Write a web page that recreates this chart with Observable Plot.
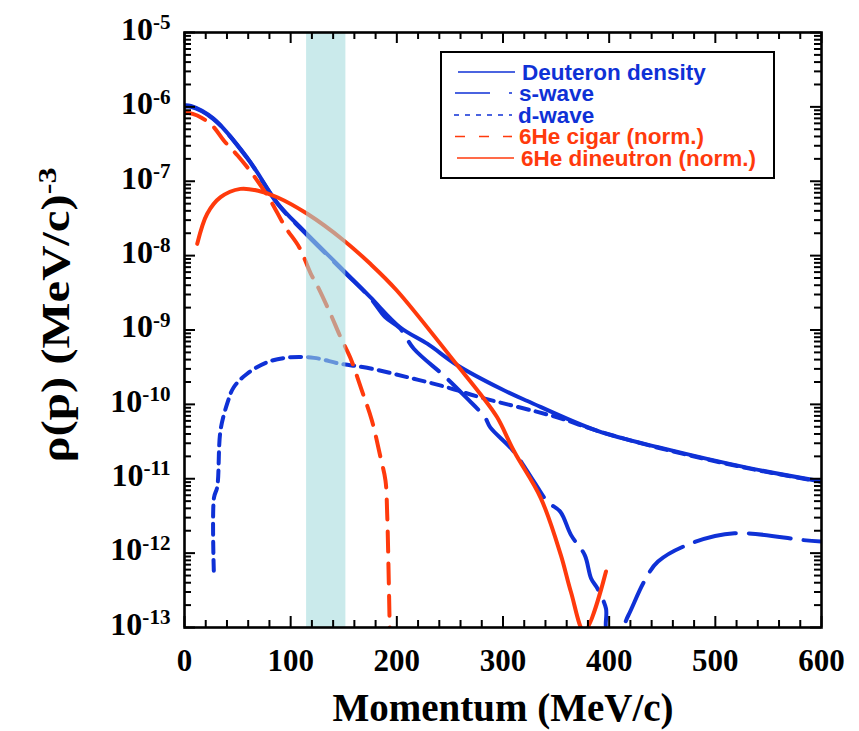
<!DOCTYPE html>
<html>
<head>
<meta charset="utf-8">
<script src="https://cdn.jsdelivr.net/npm/d3@7"></script>
<script src="https://cdn.jsdelivr.net/npm/@observablehq/plot@0.6"></script>
<style>
  html, body { margin: 0; padding: 0; background: #fff; }
  #wrap { position: relative; width: 859px; height: 731px; overflow: hidden; }
  #legend { position: absolute; left: 0; top: 0; pointer-events: none; }
</style>
</head>
<body>
<div id="wrap"></div>
<script>
// Momentum distributions: deuteron (total, s-wave, d-wave) and normalised 6He configurations
const deuteronP   = [0, 6, 27, 59, 88, 112, 150, 175, 203, 229, 257, 298, 323, 389, 449, 531, 600];
const deuteronRho = [1.05e-6, 1.03e-6, 7.0e-7, 2.08e-7, 5.0e-8, 2.18e-8, 6.3e-9, 2.76e-9, 1.09e-9, 6.5e-10,
                     3.36e-10, 1.62e-10, 1.11e-10, 4.4e-11, 2.6e-11, 1.4e-11, 9.2e-12];

const sWaveP   = [0, 6, 27, 59, 88, 112, 150, 175, 189, 203, 216, 246, 265, 283, 288, 310, 329, 342, 354,
                  364, 377, 383, 389, 397, 398, 410, 418, 433, 446, 477, 518, 582, 600];
const sWaveRho = [1.0e-6, 1.0e-6, 6.9e-7, 2.05e-7, 4.9e-8, 2.12e-8, 6.1e-9, 2.7e-9, 1.49e-9, 1.05e-9, 5.6e-10,
                  2.32e-10, 1.25e-10, 6.7e-11, 4.9e-11, 2.34e-11, 9.2e-12, 4.9e-12, 3.6e-12, 1.76e-12, 9.4e-13,
                  4.56e-13, 3.34e-13, 1.8e-13, 9e-14, 9e-14, 1.45e-13, 4.16e-13, 7.7e-13, 1.35e-12, 1.85e-12,
                  1.5e-12, 1.43e-12];

const dWaveP   = [27.6, 27.8, 30.8, 33.9, 40.2, 46.4, 59, 78, 100, 122, 147, 172, 210, 247, 279, 351, 389, 449, 531, 600];
const dWaveRho = [5.8e-13, 5.6e-12, 7.7e-12, 4.46e-11, 1.02e-10, 1.7e-10, 2.58e-10, 3.69e-10, 4.3e-10, 4.22e-10,
                  3.51e-10, 3.1e-10, 2.32e-10, 1.7e-10, 1.24e-10, 6.7e-11, 4.4e-11, 2.55e-11, 1.38e-11, 9.1e-12];

const cigarP   = [2, 12, 26, 37, 50, 59, 68.5, 81, 95, 108, 119, 125, 137.5, 147, 156, 167, 176.5, 184.6,
                  189.3, 190.9, 192.4, 193.3, 193.6];
const cigarRho = [8.4e-7, 7.66e-7, 5.62e-7, 3.53e-7, 2.22e-7, 1.55e-7, 1.02e-7, 5.5e-8, 2.41e-8, 1.3e-8, 5.7e-9,
                  3.97e-9, 1.65e-9, 8.0e-10, 4.3e-10, 1.54e-10, 6.07e-11, 1.95e-11, 9.5e-12, 3.37e-12, 4.28e-13,
                  1.0e-13, 7e-14];

const dineutronP   = [12, 21.4, 34, 52.7, 68.5, 87.3, 115.6, 150, 175, 200, 257, 279, 294.5, 310.4, 335.6,
                      354.5, 364, 376.6, 397];
const dineutronRho = [1.44e-8, 3.65e-8, 6.1e-8, 7.9e-8, 7.5e-8, 6.1e-8, 3.65e-8, 1.6e-8, 7.76e-9, 3.4e-9,
                      3.36e-10, 1.36e-10, 6.7e-11, 2.34e-11, 5.5e-12, 9.4e-13, 3.0e-13, 8.9e-14, 5.66e-13];

// shaded momentum window
const bandLo = 115, bandHi = 152;

// axis ticks
const xTickValues = [0, 100, 200, 300, 400, 500, 600];
const xMinorValues = [20, 40, 60, 80, 120, 140, 160, 180, 220, 240, 260, 280, 320, 340, 360, 380,
                      420, 440, 460, 480, 520, 540, 560, 580];
const yTickExponents = [-13, -12, -11, -10, -9, -8, -7, -6, -5];
const yMinorMultipliers = [2, 3, 4, 5, 6, 7, 8, 9];

// legend
const legendLabels = ["Deuteron density", "s-wave", "d-wave", "6He cigar (norm.)", "6He dineutron (norm.)"];

const BLUE = "#0f31d6";
const RED = "#ff3a0c";

const rows = (ps, vs) => ps.map((p, i) => ({p, rho: vs[i]}));

const W = 859, H = 731;
const mL = 184, mR = 38, mT = 32, mB = 104;
const fw = W - mL - mR, fh = H - mT - mB;

const yMajor = yTickExponents.map(e => +("1e" + e));
const yMinor = yTickExponents.slice(0, -1).flatMap(e => yMinorMultipliers.map(k => +(k + "e" + e)));
const yLabels = yTickExponents.map(e => ({v: +("1e" + e), label: "10^" + e}));

// split "base^exp" strings into a baseline tspan and a raised tspan;
// stretch > 1 widens the text along its own direction
function superscript(stretch = 1) {
  return function (index, scales, values, dims, ctx, next) {
    const g = next(index, scales, values, dims, ctx);
    d3.select(g).selectAll("text").each(function () {
      const parts = this.textContent.split("^");
      if (parts.length > 1) {
        const t = d3.select(this);
        t.text(null);
        t.append("tspan").text(parts[0]);
        t.append("tspan").attr("dy", "-0.5em").attr("font-size", "0.66em").text(parts[1]);
      }
      if (stretch !== 1) {
        this.setAttribute("transform", (this.getAttribute("transform") || "") + ` scale(${stretch},1)`);
      }
    });
    return g;
  };
}

const serif = "'Liberation Serif', 'Times New Roman', serif";
const tickStyle = {stroke: "black", strokeWidth: 2};
const LW = 4;

const svg = Plot.plot({
  width: W, height: H,
  marginLeft: mL, marginRight: mR, marginTop: mT, marginBottom: mB,
  style: {background: "white", fontFamily: serif},
  x: {domain: [0, 600], axis: null},
  y: {type: "log", domain: [1e-13, 1e-5], axis: null},
  marks: [
    Plot.line(rows(dWaveP, dWaveRho), {x: "p", y: "rho", stroke: BLUE, strokeWidth: LW,
      strokeDasharray: "11,7", curve: "catmull-rom", clip: true}),
    Plot.line(rows(sWaveP, sWaveRho), {x: "p", y: "rho", stroke: BLUE, strokeWidth: LW,
      strokeDasharray: "42,13", curve: "catmull-rom", clip: true}),
    Plot.line(rows(deuteronP, deuteronRho), {x: "p", y: "rho", stroke: BLUE, strokeWidth: LW,
      curve: "catmull-rom", clip: true}),
    Plot.line(rows(cigarP, cigarRho), {x: "p", y: "rho", stroke: RED, strokeWidth: LW,
      strokeDasharray: "20,12", curve: "catmull-rom", clip: true}),
    Plot.line(rows(dineutronP, dineutronRho), {x: "p", y: "rho", stroke: RED, strokeWidth: LW,
      curve: "catmull-rom", clip: true}),
    // translucent momentum window over the curves
    Plot.rect([{lo: bandLo, hi: bandHi}], {x1: "lo", x2: "hi", fill: "#a3dbdc", fillOpacity: 0.58}),
    // inward ticks on all four sides
    Plot.ruleX(xTickValues, {...tickStyle, insetTop: fh - 11}),
    Plot.ruleX(xTickValues, {...tickStyle, insetBottom: fh - 11}),
    Plot.ruleX(xMinorValues, {...tickStyle, insetTop: fh - 7}),
    Plot.ruleX(xMinorValues, {...tickStyle, insetBottom: fh - 7}),
    Plot.ruleY(yMajor, {...tickStyle, insetRight: fw - 11}),
    Plot.ruleY(yMajor, {...tickStyle, insetLeft: fw - 11}),
    Plot.ruleY(yMinor, {...tickStyle, insetRight: fw - 7}),
    Plot.ruleY(yMinor, {...tickStyle, insetLeft: fw - 7}),
    Plot.frame({stroke: "black", strokeWidth: 2.6}),
    // tick labels
    Plot.text(xTickValues, {x: d => d, frameAnchor: "bottom", dy: 34, lineAnchor: "middle",
      text: d => String(d), fontSize: 31, fontWeight: "bold", fill: "black"}),
    Plot.text(yLabels, {y: "v", text: "label", frameAnchor: "left", dx: -14, dy: -3, textAnchor: "end",
      lineAnchor: "middle", fontSize: 32, fontWeight: "bold", fill: "black", render: superscript()}),
    // axis titles
    Plot.text(["Momentum (MeV/c)"], {frameAnchor: "bottom", dy: 81, lineAnchor: "middle",
      fontSize: 39, fontWeight: "bold", fill: "black"}),
    Plot.text(["ρ(p) (MeV/c)^-3"], {frameAnchor: "left", rotate: -90, dx: -128, dy: -15,
      textAnchor: "middle", lineAnchor: "middle", fontSize: 39, fontWeight: "bold", fill: "black",
      render: superscript(1.25)})
  ]
});

const wrap = document.getElementById("wrap");
wrap.appendChild(svg);

// legend box drawn in page pixels over the plot area
const legendColors = [BLUE, BLUE, BLUE, RED, RED];
const legendDash = [null, "35,19", "5,6", "10,14", null];
const rowY = [72, 93, 115, 136.5, 158];
const sampleX = [[458, 515], [455, 512], [454, 512], [455, 512], [457, 514]];
const textX = [522, 519, 518, 519, 521];

const leg = d3.select(wrap).append("svg").attr("id", "legend").attr("width", W).attr("height", H);
leg.append("rect").attr("x", 441).attr("y", 52).attr("width", 333).attr("height", 126)
  .attr("fill", "white").attr("stroke", "black").attr("stroke-width", 2);
legendLabels.forEach((label, i) => {
  leg.append("line").attr("x1", sampleX[i][0]).attr("x2", sampleX[i][1])
    .attr("y1", rowY[i]).attr("y2", rowY[i])
    .attr("stroke", legendColors[i]).attr("stroke-width", 1.6)
    .attr("stroke-dasharray", legendDash[i]);
  leg.append("text").attr("x", textX[i]).attr("y", rowY[i]).attr("dy", "0.35em")
    .attr("fill", legendColors[i]).attr("font-family", "'Liberation Sans', Arial, sans-serif")
    .attr("font-weight", "bold").attr("font-size", 22.5).text(label);
});
</script>
</body>
</html>
